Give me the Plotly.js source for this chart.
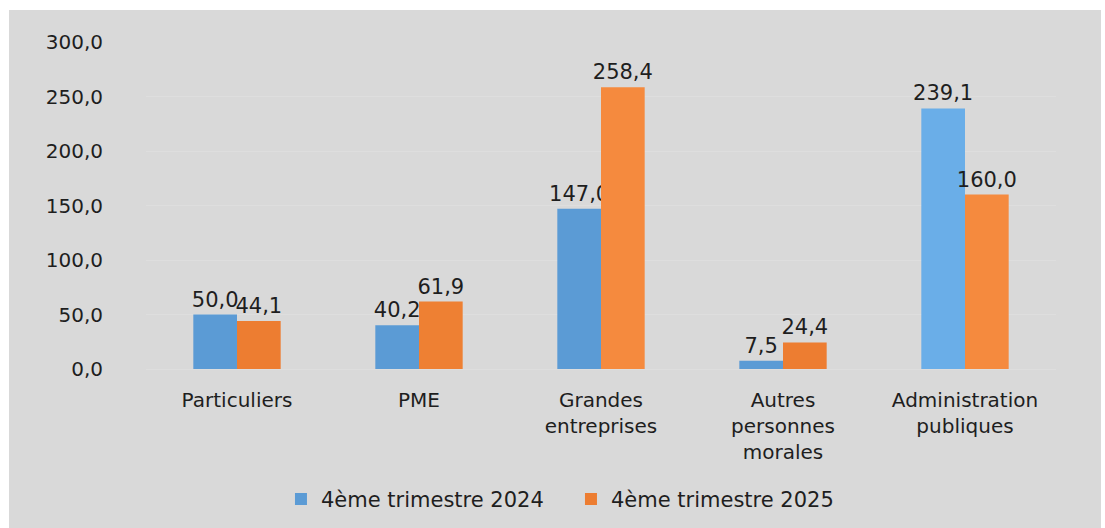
<!DOCTYPE html>
<html>
<head>
<meta charset="utf-8">
<script src="https://cdn.plot.ly/plotly-3.0.1.min.js"></script>
<style>
html,body{margin:0;padding:0;background:#ffffff;}
#chart{position:absolute;left:9px;top:10px;width:1092px;height:518px;}
</style>
</head>
<body>
<div id="chart"></div>
<script>
const categories = ["Particuliers", "PME", "Grandes<br>entreprises", "Autres<br>personnes<br>morales", "Administration<br>publiques"];
const series2024 = [50.0, 40.2, 147.0, 7.5, 239.1];
const series2025 = [44.1, 61.9, 258.4, 24.4, 160.0];
const seriesNames = ["4ème trimestre 2024", "4ème trimestre 2025"];
const yTicks = [0, 50, 100, 150, 200, 250, 300];

const font = {family: "DejaVu Sans, Verdana, sans-serif", size: 20, color: "#1e1e1e"};
const labelFont = {family: "DejaVu Sans, Verdana, sans-serif", size: 21, color: "#1e1e1e"};

const traces = [
  {
    type: "bar", name: seriesNames[0], x: categories, y: series2024,
    marker: {color: ["#5b9bd5", "#5b9bd5", "#5b9bd5", "#5b9bd5", "#6aaee8"]},
    texttemplate: "%{y:.1f}", textposition: "outside", cliponaxis: false,
    constraintext: "none", textfont: labelFont, hoverinfo: "skip"
  },
  {
    type: "bar", name: seriesNames[1], x: categories, y: series2025,
    marker: {color: ["#ed7d31", "#ee8033", "#f58a3e", "#ed7d31", "#f58a3e"]},
    texttemplate: "%{y:.1f}", textposition: "outside", cliponaxis: false,
    constraintext: "none", textfont: labelFont, hoverinfo: "skip"
  }
];

const layout = {
  width: 1092, height: 518,
  paper_bgcolor: "#d9d9d9", plot_bgcolor: "#d9d9d9",
  margin: {l: 137, r: 45, t: 32, b: 159, autoexpand: false},
  separators: ", ",
  font: font,
  barmode: "group", bargap: 0.52, bargroupgap: 0,
  showlegend: true,
  legend: {orientation: "h", x: 0.467, xanchor: "center", y: -0.336, yanchor: "top",
           font: {family: "DejaVu Sans, Verdana, sans-serif", size: 21, color: "#1e1e1e"},
           bgcolor: "rgba(0,0,0,0)", itemwidth: 30, entrywidth: 245, traceorder: "normal"},
  xaxis: {showgrid: false, zeroline: false, showline: false, ticks: "", automargin: false,
          tickfont: font, ticklabelstandoff: 17, fixedrange: true},
  yaxis: {range: [0, 300], tickvals: yTicks, tickformat: ".1f", automargin: false,
          showgrid: true, gridcolor: "#dedede", gridwidth: 1,
          zeroline: true, zerolinecolor: "#dedede", showline: false, ticks: "",
          tickfont: font, ticklabelstandoff: 42, fixedrange: true}
};

Plotly.newPlot("chart", traces, layout, {displayModeBar: false, staticPlot: true});
</script>
</body>
</html>
